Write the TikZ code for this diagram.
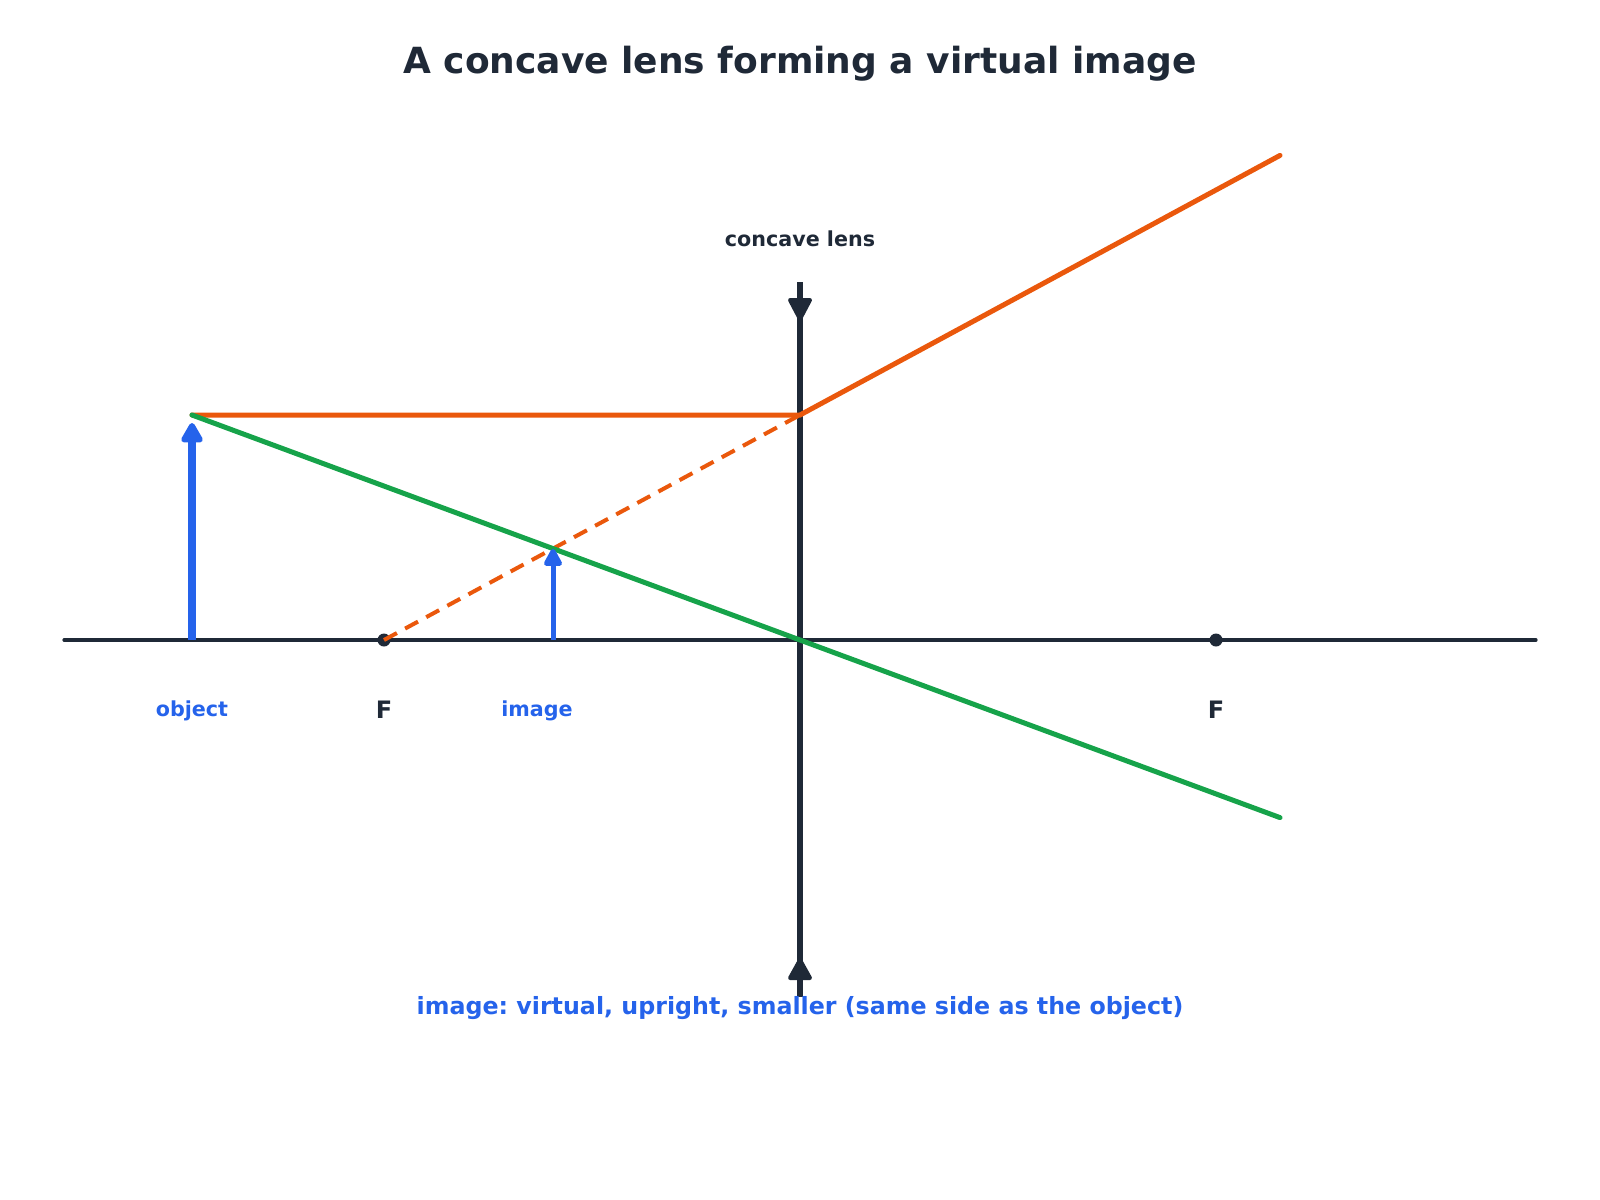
\documentclass[tikz,border=0pt]{standalone}
\usepackage{fontspec}
\setmainfont{DejaVu Sans}
\usetikzlibrary{arrows.meta}
\definecolor{ink}{HTML}{1F2937}
\definecolor{bluec}{HTML}{2563EB}
\definecolor{orangec}{HTML}{EA580C}
\definecolor{greenc}{HTML}{16A34A}
\tikzset{
  axisline/.style={draw=ink, line width=2.4pt, line cap=round},
  lensline/.style={draw=ink, line width=4.5pt},
  lenshead/.style={fill=ink, draw=ink, line width=3pt, line join=round},
  ray/.style={line width=3.75pt, line cap=round},
  virtray/.style={line width=3pt, dash pattern=on 11pt off 7pt},
  objarrow/.style={draw=bluec, line width=5.4pt, -{Triangle[length=17pt,width=18pt,round]}},
  imgarrow/.style={draw=bluec, line width=3.75pt, -{Triangle[length=15pt,width=15pt,round]}},
  fdot/.style={circle, fill=ink, inner sep=0pt, minimum size=9.75pt},
  lbl/.style={font=\bfseries\fontsize{15.5}{18}\selectfont, inner sep=0pt},
}
\begin{document}
\frenchspacing
\begin{tikzpicture}[x=0.75pt, y=-0.75pt]
\useasboundingbox (0,0) rectangle (1600,1200);
% coordinates
\coordinate (AL) at (64,640);
\coordinate (AR) at (1536,640);
\coordinate (LT) at (800,282);
\coordinate (LB) at (800,997);
\coordinate (LC) at (800,640);
\coordinate (LH) at (800,415);
\coordinate (OB) at (192,640);
\coordinate (OT) at (192,415);
\coordinate (IB) at (553,640);
\coordinate (IT) at (553,549);
\coordinate (R1) at (1280,155.4);
\coordinate (R2) at (1280,817.6);
% axis
\draw[axisline] (AL) -- (AR);
% lens
\draw[lensline] (LT) -- (LB);
\filldraw[lenshead] (790,300) -- (810,300) -- (800,319) -- cycle;
\filldraw[lenshead] (790,978) -- (810,978) -- (800,960) -- cycle;
% focal points
\node[fdot] (F1) at (384,640) {};
\node[fdot] (F2) at (1216,640) {};
% rays
\draw[ray, orangec] (OT) -- (LH) -- (R1);
\draw[virtray, orangec] (F1.center) -- (LH);
\draw[ray, greenc] (OT) -- (LC) -- (R2);
% object and image
\draw[objarrow, shorten >=6pt] (OB) -- (OT);
\draw[imgarrow] (IB) -- (IT);
% labels
\node[font=\bfseries\fontsize{27}{32}\selectfont, text=ink, inner sep=0pt] (title) at (800,64) {A concave lens forming a virtual image};
\node[lbl, text=ink] (lenslbl) at (800,239) {concave lens};
\node[lbl, text=bluec] (objlbl) at (192,711) {object};
\node[lbl, text=bluec] (imglbl) at (537,711) {image};
\node[font=\bfseries\fontsize{18}{22}\selectfont, text=ink, inner sep=0pt] (F1lbl) at (384,710) {F};
\node[font=\bfseries\fontsize{18}{22}\selectfont, text=ink, inner sep=0pt] (F2lbl) at (1216,710) {F};
\node[font=\bfseries\fontsize{17.8}{21}\selectfont, text=bluec, inner sep=0pt] (note) at (800,1008) {image: virtual, upright, smaller (same side as the object)};
\end{tikzpicture}
\end{document}
